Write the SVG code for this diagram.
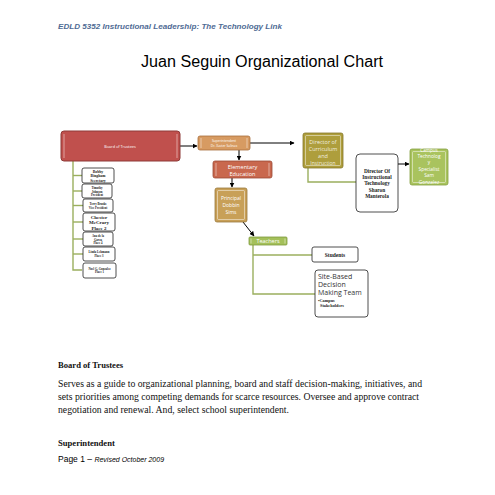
<svg xmlns="http://www.w3.org/2000/svg" width="495" height="495" viewBox="0 0 495 495">
<defs>
<marker id="ah" viewBox="0 0 10 10" refX="9" refY="5" markerWidth="5" markerHeight="5" orient="auto"><path d="M0,0 L10,5 L0,10 z" fill="#000"/></marker>
</defs>
<style>
.hdr{font-family:"Liberation Sans",Arial,sans-serif;font-weight:bold;font-style:italic;fill:#4F6B94}
.ttl{font-family:"Liberation Sans",Arial,sans-serif;fill:#000}
.wt{font-family:"Open Sans","DejaVu Sans",sans-serif;fill:#fff;text-anchor:middle}
.bk{font-family:"Liberation Serif","Times New Roman",serif;font-weight:bold;fill:#222;text-anchor:middle}
.bks{font-family:"Liberation Serif","Times New Roman",serif;font-weight:bold;fill:#222}
.cal{font-family:"Open Sans","DejaVu Sans",sans-serif;fill:#333}
.body{font-family:"Liberation Serif","Times New Roman",serif;fill:#111;font-size:9.3px}
.bh{font-family:"Liberation Serif","Times New Roman",serif;font-weight:bold;fill:#111;font-size:8.6px}
.wbox{fill:#fff;stroke:#222;stroke-width:0.8}
.gl{stroke:#9BAF5E;stroke-width:1.4;fill:none}
.ar{stroke:#000;stroke-width:1;fill:none;marker-end:url(#ah)}
.inner{stroke:#fff;stroke-opacity:0.6;stroke-width:0.8;fill:none}
</style>
<rect width="495" height="495" fill="#fff"/>
<text class="hdr" x="58" y="29" font-size="7.3" textLength="224" lengthAdjust="spacingAndGlyphs">EDLD 5352 Instructional Leadership: The Technology Link</text>
<text class="ttl" x="141" y="67" font-size="16" textLength="242" lengthAdjust="spacingAndGlyphs">Juan Seguin Organizational Chart</text>

<g id="connectors">
<line class="ar" x1="180" y1="146" x2="197" y2="146"/>
<line class="ar" x1="250" y1="143" x2="294" y2="143"/>
<line class="ar" x1="239" y1="150" x2="239" y2="160"/>
<line class="ar" x1="232" y1="178" x2="232" y2="187"/>
<line class="ar" x1="243" y1="222" x2="254" y2="236"/>
<line class="ar" x1="398" y1="164" x2="409" y2="164"/>
<polyline class="gl" points="73,161 73,270 82,270"/>
<line class="gl" x1="73" y1="175.5" x2="82" y2="175.5"/>
<line class="gl" x1="73" y1="191" x2="82" y2="191"/>
<line class="gl" x1="73" y1="205.5" x2="83" y2="205.5"/>
<line class="gl" x1="73" y1="222" x2="83" y2="222"/>
<line class="gl" x1="73" y1="239" x2="83" y2="239"/>
<line class="gl" x1="73" y1="254" x2="83" y2="254"/>
<polyline class="gl" points="308,168 308,182 356,182"/>
<polyline class="gl" points="253,245 253,294 315,294"/>
<line class="gl" x1="253" y1="255" x2="312" y2="255"/>
</g>

<g id="board">
<rect x="61" y="131" width="119" height="30" rx="3" fill="#C0504D" stroke="#8E3A38" stroke-width="1"/>
<line class="inner" x1="64" y1="134" x2="64" y2="158"/><line class="inner" x1="177" y1="134" x2="177" y2="158"/>
<text class="wt" x="120" y="147.5" font-size="3.8">Board of Trustees</text>
</g>

<g id="m1"><rect class="wbox" x="82" y="168" width="32" height="15" rx="2"/>
<text class="bk" x="98" y="172.5" font-size="3.8">Bobby</text><text class="bk" x="98" y="177" font-size="3.8">Bingham</text><text class="bk" x="98" y="181.5" font-size="3.8">Secretary</text></g>
<g id="m2"><rect class="wbox" x="82" y="184" width="30" height="14" rx="2"/>
<text class="bk" x="97" y="189" font-size="3">Timothy</text><text class="bk" x="97" y="192.5" font-size="3">Johnson</text><text class="bk" x="97" y="196" font-size="3">President</text></g>
<g id="m3"><rect class="wbox" x="83" y="199" width="30" height="13" rx="2"/>
<text class="bk" x="98" y="205" font-size="3">Terry Brooks</text><text class="bk" x="98" y="208.5" font-size="3">Vice President</text></g>
<g id="m4"><rect class="wbox" x="83" y="213" width="32" height="18" rx="2"/>
<text class="bk" x="99" y="218.5" font-size="5">Chester</text><text class="bk" x="99" y="224" font-size="5">McCrary</text><text class="bk" x="99" y="229.5" font-size="5">Place 2</text></g>
<g id="m5"><rect class="wbox" x="83" y="232" width="30" height="14" rx="2"/>
<text class="bk" x="98" y="237" font-size="3">Ana de la</text><text class="bk" x="98" y="240.5" font-size="3">Garza</text><text class="bk" x="98" y="244" font-size="3">Place 4</text></g>
<g id="m6"><rect class="wbox" x="83" y="247" width="32" height="14" rx="2"/>
<text class="bk" x="99" y="253" font-size="3">Linda Lehmann</text><text class="bk" x="99" y="256.5" font-size="3">Place 3</text></g>
<g id="m7"><rect class="wbox" x="83" y="263" width="33" height="15" rx="2"/>
<text class="bk" x="99.5" y="269.5" font-size="3">Noel G. Gonzalez</text><text class="bk" x="99.5" y="273" font-size="3">Place 1</text></g>

<g id="superintendent">
<rect x="198" y="136" width="52" height="14" rx="2" fill="#D79B62" stroke="#A86F3C" stroke-width="0.8"/>
<line class="inner" x1="201" y1="138" x2="201" y2="148"/><line class="inner" x1="247" y1="138" x2="247" y2="148"/>
<text class="wt" x="224" y="142" font-size="3.3">Superintendent</text>
<text class="wt" x="224" y="146.5" font-size="3.3">Dr. Xavier Salinas</text>
</g>

<g id="elementary">
<rect x="213" y="161" width="59" height="17" rx="2" fill="#C9684E" stroke="#9A4A36" stroke-width="0.8"/>
<line class="inner" x1="216" y1="163" x2="216" y2="176"/><line class="inner" x1="269" y1="163" x2="269" y2="176"/>
<text class="wt" x="242.5" y="168.5" font-size="5.6">Elementary</text>
<text class="wt" x="242.5" y="175.8" font-size="5.6">Education</text>
</g>

<g id="principal">
<rect x="215" y="188" width="32" height="34" rx="2" fill="#C8A058" stroke="#9A7A3C" stroke-width="0.8"/>
<rect x="217.5" y="190.5" width="27" height="29" rx="1" class="inner"/>
<text class="wt" x="231" y="200" font-size="5">Principal</text>
<text class="wt" x="231" y="207" font-size="5">Dobbin</text>
<text class="wt" x="231" y="214" font-size="5">Sims</text>
</g>

<g id="teachers">
<rect x="249" y="237" width="38" height="8" rx="1" fill="#A4C05A" stroke="#7F9A3E" stroke-width="0.8"/>
<line class="inner" x1="251" y1="238.5" x2="251" y2="243.5"/><line class="inner" x1="285" y1="238.5" x2="285" y2="243.5"/>
<text class="wt" x="268" y="243.3" font-size="5.5">Teachers</text>
</g>

<g id="students">
<rect class="wbox" x="312" y="247" width="46" height="15" rx="2"/>
<text class="bk" x="335" y="256.5" font-size="5.5">Students</text>
</g>

<g id="sbdm">
<rect class="wbox" x="315" y="270" width="53" height="47" rx="3"/>
<text class="cal" x="318" y="279" font-size="7">Site-Based</text>
<text class="cal" x="318" y="287" font-size="7">Decision</text>
<text class="cal" x="318" y="295" font-size="7">Making Team</text>
<text class="bks" x="318" y="302" font-size="4.3">•Campus</text>
<text class="bks" x="320" y="307" font-size="4.3">Stakeholders</text>
</g>

<g id="dci">
<rect x="303" y="133" width="40" height="35" rx="2" fill="#AE9E3C" stroke="#857728" stroke-width="0.8"/>
<rect x="305.5" y="135.5" width="35" height="30" rx="1" class="inner"/>
<text class="wt" x="323" y="144" font-size="5.5" fill-opacity="0.85">Director of</text>
<text class="wt" x="323" y="151" font-size="5.5" fill-opacity="0.85">Curriculum</text>
<text class="wt" x="323" y="158" font-size="5.5" fill-opacity="0.85">and</text>
<text class="wt" x="323" y="164.5" font-size="5" fill-opacity="0.85">Instruction</text>
</g>

<g id="dit">
<rect class="wbox" x="356" y="154" width="42" height="58" rx="4"/>
<text class="bk" x="377" y="173" font-size="5.3">Director Of</text>
<text class="bk" x="377" y="179" font-size="5.3">Instructional</text>
<text class="bk" x="377" y="185" font-size="5.3">Technology</text>
<text class="bk" x="377" y="192" font-size="5.3">Sharon</text>
<text class="bk" x="377" y="198" font-size="5.3">Manterola</text>
</g>

<g id="cts">
<rect x="410" y="149" width="38" height="36" rx="2" fill="#A9C35E" stroke="#84A040" stroke-width="0.8"/>
<rect x="412.5" y="151.5" width="33" height="31" rx="1" class="inner"/>
<text class="wt" x="429" y="151.5" font-size="4.6">Campus</text>
<text class="wt" x="429" y="157.5" font-size="4.8">Technolog</text>
<text class="wt" x="429" y="164" font-size="4.8">y</text>
<text class="wt" x="429" y="170.5" font-size="4.8">Specialist</text>
<text class="wt" x="429" y="177" font-size="4.8">Sam</text>
<text class="wt" x="429" y="183.5" font-size="4.8">Gonzalez</text>
</g>

<text class="bh" x="58" y="368">Board of Trustees</text>
<text class="body" x="58" y="387" textLength="364" lengthAdjust="spacingAndGlyphs">Serves as a guide to organizational planning, board and staff decision-making, initiatives, and</text>
<text class="body" x="58" y="400" textLength="361" lengthAdjust="spacingAndGlyphs">sets priorities among competing demands for scarce resources. Oversee and approve contract</text>
<text class="body" x="58" y="413" textLength="231" lengthAdjust="spacingAndGlyphs">negotiation and renewal. And, select school superintendent.</text>
<text class="bh" x="58" y="446">Superintendent</text>
<text class="ttl" x="58" y="462" font-size="8.5">Page 1 – <tspan font-style="italic" font-size="7">Revised October 2009</tspan></text>
</svg>
